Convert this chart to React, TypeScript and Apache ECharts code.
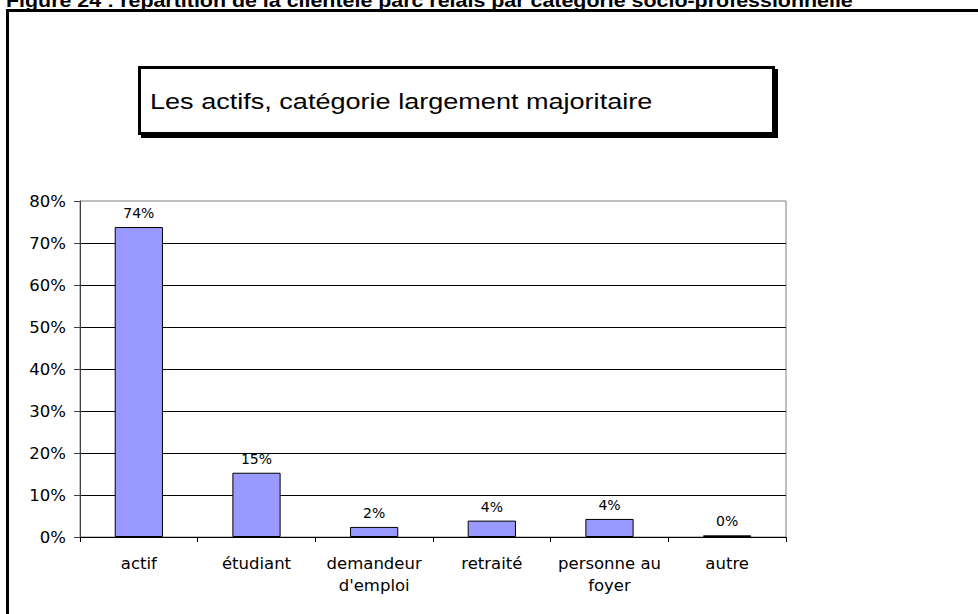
import React, { useEffect, useRef } from "react";
import * as echarts from "echarts";

const categories = ["actif", "étudiant", "demandeur\nd'emploi", "retraité", "personne au\nfoyer", "autre"];
const shares = [73.8, 15.3, 2.4, 3.9, 4.3, 0.4];
const yTicks = { min: 0, max: 80, interval: 10 };
const figureTitle = "Figure 24 : répartition de la clientèle parc relais par catégorie socio-professionnelle";
const boxText = "Les actifs, catégorie largement majoritaire";

const ARIAL = "Arial, 'Liberation Sans', sans-serif";
const WIDE = "'DejaVu Sans', sans-serif";

export default function App() {
  const ref = useRef<HTMLDivElement>(null);
  useEffect(() => {
    if (!ref.current) return;
    const chart = echarts.init(ref.current, null, { renderer: "svg" });
    chart.setOption({
      animation: false,
      backgroundColor: "#ffffff",
      textStyle: { fontFamily: WIDE },
      grid: {
        left: 80,
        right: 192,
        top: 201,
        bottom: 77,
        show: true,
        borderColor: "#808080",
        borderWidth: 1,
        backgroundColor: "transparent",
      },
      xAxis: {
        type: "category",
        data: categories,
        axisLine: { lineStyle: { color: "#000000", width: 1 } },
        axisTick: { show: true, length: 5, lineStyle: { color: "#000000" } },
        axisLabel: {
          color: "#000000",
          fontSize: 16.5,
          fontFamily: WIDE,
          margin: 15,
          lineHeight: 22,
          interval: 0,
        },
      },
      yAxis: {
        type: "value",
        min: yTicks.min,
        max: yTicks.max,
        interval: yTicks.interval,
        axisLine: { show: true, lineStyle: { color: "#404040", width: 1 } },
        axisTick: { show: true, length: 6, lineStyle: { color: "#404040" } },
        axisLabel: {
          color: "#000000",
          fontSize: 16.5,
          fontFamily: WIDE,
          margin: 14,
          formatter: "{value}%",
        },
        splitLine: { show: true, showMaxLine: false, lineStyle: { color: "#000000", width: 1 } },
      },
      series: [
        {
          type: "bar",
          data: shares,
          barWidth: "41%",
          itemStyle: { color: "#9999FF", borderColor: "#000000", borderWidth: 1 },
          label: {
            show: true,
            position: "top",
            distance: 7,
            color: "#000000",
            fontSize: 14,
            fontFamily: WIDE,
            formatter: (p: any) => Math.round(p.value) + "%",
          },
        },
      ],
      graphic: [
        {
          type: "text",
          x: 6,
          y: -8,
          scaleX: 1.19,
          style: { text: figureTitle, font: `bold 18px ${ARIAL}`, fill: "#000000" },
          z: 10,
        },
        { type: "rect", shape: { x: 6, y: 9, width: 972, height: 3 }, style: { fill: "#000000" }, z: 10 },
        { type: "rect", shape: { x: 6, y: 9, width: 3, height: 605 }, style: { fill: "#000000" }, z: 10 },
        { type: "rect", shape: { x: 141, y: 69, width: 637, height: 69 }, style: { fill: "#000000" }, z: 10 },
        {
          type: "rect",
          shape: { x: 139.5, y: 67.5, width: 634, height: 66 },
          style: { fill: "#ffffff", stroke: "#000000", lineWidth: 3 },
          z: 11,
        },
        {
          type: "text",
          x: 150,
          y: 101,
          scaleX: 1.23,
          style: { text: boxText, font: `22px ${ARIAL}`, fill: "#000000", textVerticalAlign: "middle" },
          z: 12,
        },
      ],
    });
    return () => chart.dispose();
  }, []);
  return <div ref={ref} style={{ position: "fixed", left: 0, top: 0, width: 978, height: 614 }} />;
}
